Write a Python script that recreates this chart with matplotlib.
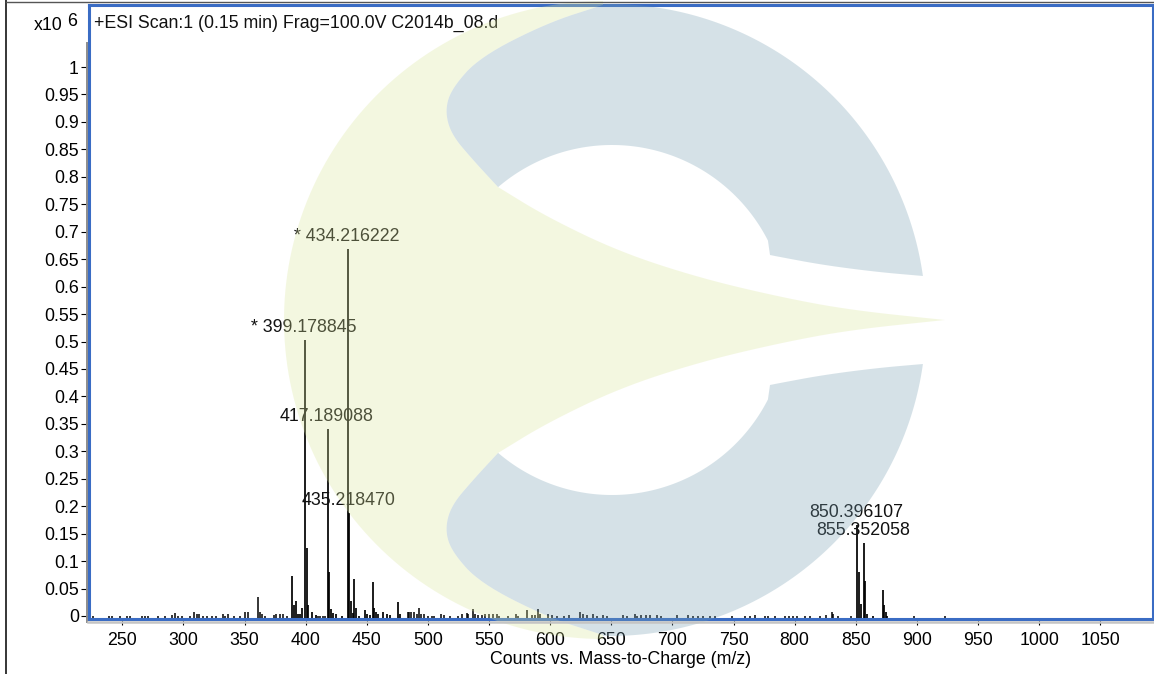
#!/usr/bin/env python3
# -*- coding: utf-8 -*-
import numpy as np
import matplotlib
matplotlib.use("Agg")
import matplotlib.pyplot as plt
from matplotlib.patches import Polygon
from matplotlib.lines import Line2D

plt.rcParams['font.family'] = ['Liberation Sans', 'DejaVu Sans']

W, H = 1154, 674

# main peaks
mz_main = [389.1, 390.2, 391.9, 393.5, 395.1, 396.8, 399.5, 400.9, 401.9, 405.0, 408.2,
           417.9, 418.9, 420.5, 422.6, 424.8, 429.5,
           434.4, 435.7, 437.1, 439.0, 439.8, 441.5, 443.6, 448.5, 450.4, 452.6,
           455.4, 456.2, 457.6, 459.5, 463.0, 466.4, 469.3, 475.8, 477.2,
           851.1, 852.7, 854.1, 856.8, 857.9, 859.0, 864.2, 872.1, 873.2, 874.6, 875.7]
int_main = [0.073, 0.020, 0.028, 0.003, 0.003, 0.014, 0.502, 0.124, 0.020, 0.007, 0.002,
            0.341, 0.081, 0.012, 0.006, 0.003, 0.0005,
            0.669, 0.188, 0.028, 0.006, 0.067, 0.014, 0.0005, 0.010, 0.003, 0.002,
            0.061, 0.014, 0.007, 0.003, 0.008, 0.003, 0.002, 0.025, 0.004,
            0.166, 0.081, 0.022, 0.133, 0.064, 0.004, 0.0005, 0.047, 0.020, 0.008, 0.0005]

# small stuff along the baseline
mz_low = [226, 239, 242, 248, 253.6, 256.3, 265.9, 268.6, 271.3, 279.5, 285, 290.4, 293.1,
          295.6, 298.6, 305.4, 308.9, 310.9, 313, 315.8, 319.3, 323.1, 326.7, 332.1, 334,
          336.7, 341.4, 346.3, 350.4, 353.1, 360.8, 362.7, 364.5, 366.8, 374.1, 375.7, 379,
          381.2, 385, 410, 412, 414, 416, 483.5, 484.5, 486, 488.4, 490.9, 492.8, 494.4,
          496.6, 500, 503, 505, 510.8, 513.5, 518, 524.6, 528.2, 531.8, 533.1, 536.7, 538.6,
          541.3, 544, 546.7, 550, 553.5, 556.3, 558.5, 565.8, 572.1, 574, 580.9, 585, 587.7,
          589.9, 591.8, 598.5, 601.3, 605.9, 611.3, 615.7, 624.5, 627.2, 630, 635.3, 638.1,
          643.5, 646.3, 659.9, 662.6, 669, 670.9, 674.1, 678.5, 681.7, 687.2, 690.5, 703.6,
          712.8, 716.7, 721.2, 724.9, 731, 735, 748.6, 759.4, 763.5, 767.3, 775.8, 778.5,
          784, 792, 795, 799, 802, 808.5, 812.6, 820.5, 825.5, 830.4, 831.7, 835.8, 846.2,
          898, 923]
int_low = [0.0005, 0.0005, 0.0005, 0.0005, 0.0005, 0.0005, 0.0005, 0.0005, 0.0005, 0.0005, 0.0005, 0.002,
           0.006, 0.0005, 0.0005, 0.0005, 0.007, 0.004, 0.003, 0.0005, 0.0005, 0.0005, 0.0005, 0.003,
           0.0005, 0.003, 0.0005, 0.0005, 0.008, 0.008, 0.034, 0.008, 0.003, 0.0005, 0.002, 0.003,
           0.004, 0.003, 0.0005, 0.0005, 0.0005, 0.0005, 0.0005, 0.008, 0.008, 0.008, 0.007, 0.004,
           0.014, 0.004, 0.003, 0.0005, 0.0005, 0.0005, 0.003, 0.002, 0.0005, 0.0005, 0.003, 0.006,
           0.004, 0.013, 0.003, 0.002, 0.002, 0.003, 0.003, 0.003, 0.003, 0.0005, 0.0005, 0.003,
           0.0005, 0.010, 0.002, 0.002, 0.013, 0.004, 0.004, 0.002, 0.0005, 0.0005, 0.002, 0.008,
           0.003, 0.002, 0.003, 0.0005, 0.002, 0.0005, 0.002, 0.0005, 0.004, 0.0005, 0.002, 0.002,
           0.002, 0.002, 0.0005, 0.002, 0.002, 0.0005, 0.0005, 0.0005, 0.0005, 0.0005, 0.0005, 0.0005,
           0.0005, 0.002, 0.0005, 0.0005, 0.0005, 0.0005, 0.0005, 0.0005, 0.0005, 0.0005, 0.0005, 0.0005,
           0.002, 0.008, 0.004, 0.0005, 0.0005, 0.0005, 0.0005]

# labelled peaks
label_mz = [434.4, 399.2, 417.9, 435.7, 851.1, 856.8]
label_top = [0.669, 0.502, 0.341, 0.188, 0.166, 0.133]
label_text = ["* 434.216222", "* 399.178845", "417.189088", "435.218470", "850.396107", "855.352058"]

xticks = list(range(250, 1051, 50))
yticks = [i * 0.05 for i in range(21)]
ylabels = ["%g" % round(v, 2) for v in yticks]

title = "+ESI Scan:1 (0.15 min) Frag=100.0V C2014b_08.d"
xlabel = "Counts vs. Mass-to-Charge (m/z)"

fig = plt.figure(figsize=(W / 100, H / 100), dpi=100)
left, right, top, bottom = 89, 1153, 4.5, 619
ax = fig.add_axes([left / W, 1 - bottom / H, (right - left) / W, (bottom - top) / H])
ax.set_xlim(222.8, 1093.1)
ax.set_ylim(-0.0055, 1.1139)

floor = ax.get_ylim()[0]
ax.vlines(mz_low, floor, int_low, color='black', linewidth=1.1)
ax.vlines(mz_main, floor, int_main, color='black', linewidth=1.25)

for m, t, s in zip(label_mz, label_top, label_text):
    ax.annotate(s, (m, t), xytext=(-0.5, 9), textcoords='offset points', ha='center', va='center',
                fontsize=12.8, color='#111111', annotation_clip=False)

fig.text(94 / W, 1 - 23 / H, title, fontsize=12.8, ha='left', va='center', color='#111111')

ax.set_xticks(xticks)
ax.set_yticks(yticks)
ax.set_yticklabels(ylabels)
ax.tick_params(axis='x', length=4.3, width=0.8, labelsize=12.8, pad=5)
ax.tick_params(axis='y', length=5.8, width=0.8, labelsize=12.8, pad=1.5)
for sp in ax.spines.values():
    sp.set_color('#3a6cc4')
    sp.set_linewidth(2.2)

fig.text(34 / W, 1 - 26 / H, "x10", fontsize=12.8, ha='left', va='center')
fig.text(67 / W, 1 - 21 / H, "6", fontsize=12.8, ha='left', va='center')
fig.text(621 / W, 1 - 660 / H, xlabel, fontsize=12.8, ha='center', va='center')

# overlay in pixel coords: frame lines and the watermark
ov = fig.add_axes([0, 0, 1, 1], zorder=5)
ov.set_xlim(0, W)
ov.set_ylim(H, 0)
ov.axis('off')
ov.patch.set_alpha(0)


def arc(cx, cy, r, a0, a1, n=120):
    t = np.radians(np.linspace(a0, a1, n))
    return np.column_stack([cx + r * np.cos(t), cy + r * np.sin(t)])


def smooth(pts, rounds=3):
    p = np.array(pts, dtype=float)
    for _ in range(rounds):
        q = 0.75 * p[:-1] + 0.25 * p[1:]
        r = 0.25 * p[:-1] + 0.75 * p[1:]
        mid = np.empty((len(q) * 2, 2))
        mid[0::2] = q
        mid[1::2] = r
        p = np.vstack([p[0], mid, p[-1]])
    return p


def mirror(p):
    m = np.array(p, dtype=float)
    m[:, 1] = 640 - m[:, 1]
    return m


edge = smooth([(603, 5), (547, 23), (480, 57), (452, 88), (445, 110), (451, 134), (473, 160), (498, 187)])
gap = smooth([(498, 187), (547, 217), (620, 252), (700, 278), (780, 297), (850, 310), (945, 320)])
tail = smooth([(770, 255), (780, 257), (823, 265), (877, 272), (923, 276)])

inner = arc(612, 320, 175, -130.6, -27)
outer = arc(610, 320, 316, -8, -91.3)
blue_up = np.vstack([edge, inner, tail, outer])
yellow = np.vstack([arc(603, 320, 319, -90, -270), mirror(edge), mirror(gap), gap[::-1], edge[::-1]])

ov.add_patch(Polygon(yellow, closed=True, facecolor=(218 / 255, 230 / 255, 155 / 255), edgecolor='none', alpha=0.3))
ov.add_patch(Polygon(blue_up, closed=True, facecolor=(118 / 255, 158 / 255, 178 / 255), edgecolor='none', alpha=0.3))
ov.add_patch(Polygon(mirror(blue_up), closed=True, facecolor=(118 / 255, 158 / 255, 178 / 255), edgecolor='none', alpha=0.3))

# grey rulers next to the frame and the outer border of the screenshot
ov.add_line(Line2D([86.5, 86.5], [43, 622], color='#8c8c8c', linewidth=1.4))
ov.add_line(Line2D([88, 1153], [622, 622], color='#c4c4c4', linewidth=1.8))
ov.add_line(Line2D([6, 6], [0, 674], color='black', linewidth=1.1))
ov.add_line(Line2D([6, 1154], [1.5, 1.5], color='#555555', linewidth=1.0))

fig.savefig("out.png", dpi=100)
